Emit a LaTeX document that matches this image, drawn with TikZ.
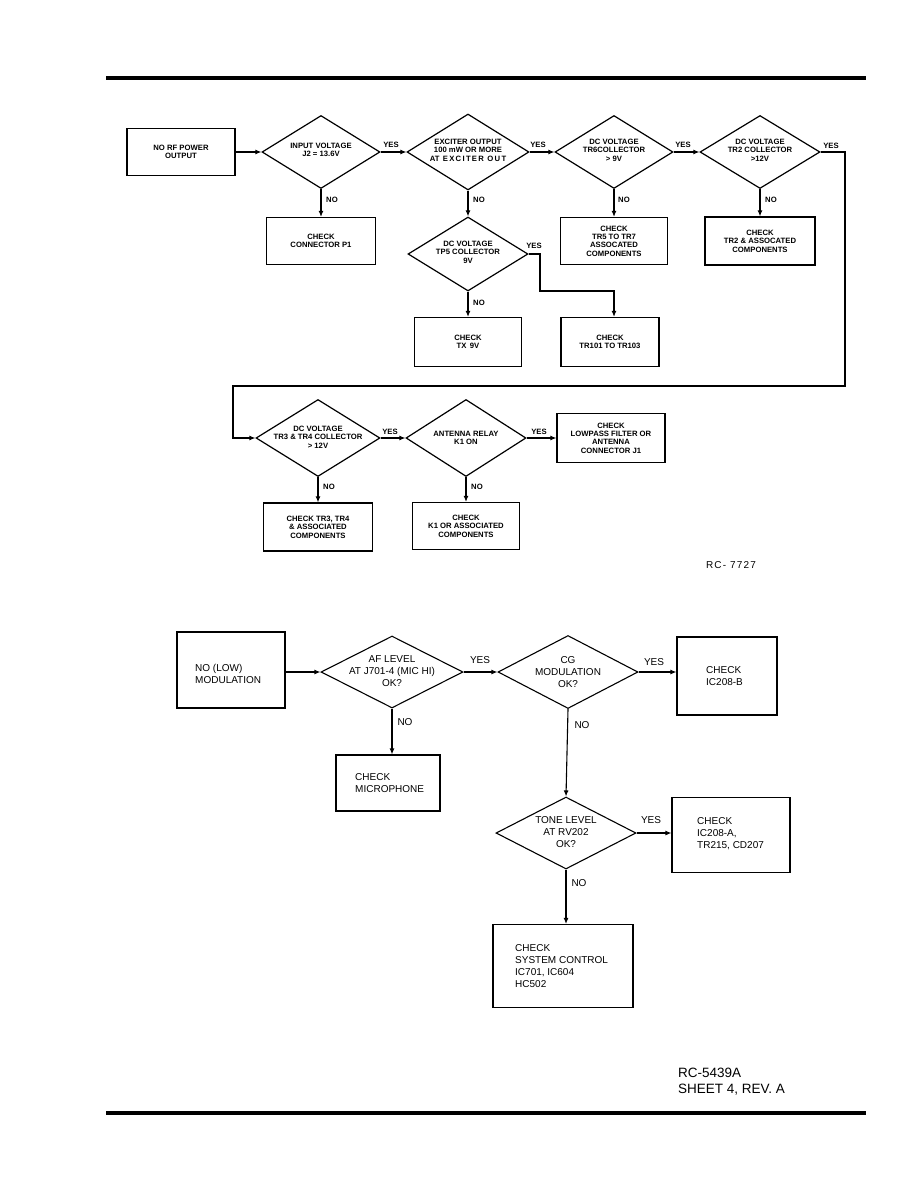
\documentclass[tikz,border=0pt]{standalone}
\usepackage{fontspec}
\setmainfont{Liberation Sans}
\usetikzlibrary{shapes.geometric,arrows.meta}
\newcommand\toptxt{\fontsize{7.7}{8.4}\selectfont\bfseries}
\newcommand\bottxt{\fontsize{10}{12}\selectfont}
\tikzset{
  tbox/.style={draw, line width=1.2pt, inner sep=0pt, align=center, font=\toptxt},
  tdia/.style={draw, diamond, line width=1.2pt, inner sep=0pt},
  ttxt/.style={align=center, font=\toptxt, inner sep=0pt},
  tlab/.style={font=\toptxt, inner sep=0pt},
  bbox/.style={draw, line width=1.1pt, inner sep=0pt},
  bdia/.style={draw, diamond, line width=1.1pt, inner sep=0pt},
  btxt/.style={align=left, font=\bottxt, inner sep=0pt},
  bctxt/.style={align=center, font=\bottxt, inner sep=0pt},
  blab/.style={font=\bottxt, inner sep=0pt},
  arr/.style={line width=1.1pt, -{Latex[length=6pt,width=5pt]}},
  rule/.style={line width=4.5pt}
}
\begin{document}
\begin{tikzpicture}[x=1pt,y=-1pt]
\useasboundingbox[fill=white] (0,0) rectangle (918,1188);
% page rules
\coordinate (r1a) at (106,78); \coordinate (r1b) at (866,78);
\coordinate (r2a) at (106,1113); \coordinate (r2b) at (866,1113);
\draw[rule] (r1a) -- (r1b);
\draw[rule] (r2a) -- (r2b);

% ===== top flowchart =====
\node[tbox, minimum width=108, minimum height=47] (b1) at (181,152) {NO RF POWER\\OUTPUT};
\node[tdia, minimum width=118, minimum height=73] (d1) at (321,152) {};
\node[ttxt] (d1t) at (321,150) {INPUT VOLTAGE\\J2 = 13.6V};
\node[tbox, minimum width=109, minimum height=47] (c1) at (321,241) {CHECK\\CONNECTOR P1};
\node[tdia, minimum width=122, minimum height=76] (d2) at (468,152) {};
\node[ttxt] (d2t) at (468,150) {EXCITER OUTPUT\\100 mW OR MORE\\AT \,E\,X\,C\,I\,T\,E\,R \,O\,U\,T};
\node[tdia, minimum width=120, minimum height=74] (d3) at (468,254) {};
\node[ttxt] (d3t) at (468,252) {DC VOLTAGE\\TP5 COLLECTOR\\9V};
\node[tbox, minimum width=107, minimum height=49] (c3) at (468,342) {CHECK\\TX \,9V};
\node[tbox, minimum width=98, minimum height=49] (c4) at (610,342) {CHECK\\TR101 TO TR103};
\node[tdia, minimum width=118, minimum height=73] (d4) at (614,152) {};
\node[ttxt] (d4t) at (614,150) {DC VOLTAGE\\TR6COLLECTOR\\> 9V};
\node[tbox, minimum width=107, minimum height=47] (c5) at (614,241) {CHECK\\TR5 TO TR7\\ASSOCATED\\COMPONENTS};
\node[tdia, minimum width=120, minimum height=73] (d5) at (760,152) {};
\node[ttxt] (d5t) at (760,150) {DC VOLTAGE\\TR2 COLLECTOR\\>12V};
\node[tbox, minimum width=110, minimum height=48] (c6) at (760,241) {CHECK\\TR2 \& ASSOCATED\\COMPONENTS};
\node[tdia, minimum width=124, minimum height=77] (d6) at (318,438) {};
\node[ttxt] (d6t) at (318,437) {DC VOLTAGE\\TR3 \& TR4 COLLECTOR\\> 12V};
\node[tdia, minimum width=120, minimum height=77] (d7) at (466,438) {};
\node[ttxt] (d7t) at (466,438) {ANTENNA RELAY\\K1 ON};
\node[tbox, minimum width=108, minimum height=49] (c7) at (611,438) {CHECK\\LOWPASS FILTER OR\\ANTENNA\\CONNECTOR J1};
\node[tbox, minimum width=109, minimum height=48] (c8) at (318,527) {CHECK TR3, TR4\\\& ASSOCIATED\\COMPONENTS};
\node[tbox, minimum width=107, minimum height=47] (c9) at (466,526) {CHECK\\K1 OR ASSOCIATED\\COMPONENTS};

\draw[arr] (b1.east) -- (d1.west);
\draw[arr] (d1.east) -- (d2.west);
\draw[arr] (d2.east) -- (d4.west);
\draw[arr] (d4.east) -- (d5.west);
\draw[arr] (d1.south) -- (c1.north);
\draw[arr] (d2.south) -- (d3.north);
\draw[arr] (d3.south) -- (c3.north);
\draw[arr] (d4.south) -- (c5.north);
\draw[arr] (d5.south) -- (c6.north);
\coordinate (y1) at (540,254); \coordinate (y2) at (540,291); \coordinate (y3) at (614,291);
\draw[arr] (d3.east) -- (y1) -- (y2) -- (y3) -- (y3 |- c4.north);
\coordinate (l1) at (845,152); \coordinate (l2) at (845,386); \coordinate (l3) at (233,386); \coordinate (l4) at (233,438);
\draw[arr] (d5.east) -- (l1) -- (l2) -- (l3) -- (l4) -- (d6.west);
\draw[arr] (d6.east) -- (d7.west);
\draw[arr] (d7.east) -- (c7.west);
\draw[arr] (d6.south) -- (c8.north);
\draw[arr] (d7.south) -- (c9.north);

\node[tlab] (ly1) at (391,145) {YES};
\node[tlab] (ly2) at (538,145) {YES};
\node[tlab] (ly3) at (683,145) {YES};
\node[tlab] (ly4) at (831,146) {YES};
\node[tlab] (ly5) at (534,246) {YES};
\node[tlab] (ly6) at (390,432) {YES};
\node[tlab] (ly7) at (539,432) {YES};
\node[tlab] (ln1) at (332,200) {NO};
\node[tlab] (ln2) at (479,200) {NO};
\node[tlab] (ln3) at (479,303) {NO};
\node[tlab] (ln4) at (624,200) {NO};
\node[tlab] (ln5) at (771,200) {NO};
\node[tlab] (ln6) at (329,487) {NO};
\node[tlab] (ln7) at (477,487) {NO};
\node[font=\fontsize{10}{12}\selectfont\addfontfeature{LetterSpace=12}, inner sep=0pt] (rc1) at (731,565) {RC- 7727};

% ===== bottom flowchart =====
\node[bbox, minimum width=108, minimum height=76] (b2) at (231,670) {};
\node[btxt, anchor=west] (b2t) at (195,674) {NO (LOW)\\MODULATION};
\node[bdia, minimum width=142, minimum height=72] (e1) at (392,672) {};
\node[bctxt] (e1t) at (392,671) {AF LEVEL\\AT J701-4 (MIC HI)\\OK?};
\node[bdia, minimum width=140, minimum height=73] (e2) at (568,672) {};
\node[bctxt] (e2t) at (568,672) {CG\\MODULATION\\OK?};
\node[bbox, minimum width=100, minimum height=78] (f1) at (727,676) {};
\node[btxt, anchor=west] (f1t) at (706,676) {CHECK\\IC208-B};
\node[bbox, minimum width=104, minimum height=56] (f2) at (388,783) {};
\node[btxt, anchor=west] (f2t) at (355,783) {CHECK\\MICROPHONE};
\node[bdia, minimum width=140, minimum height=72] (e3) at (566,833) {};
\node[bctxt] (e3t) at (566,832) {TONE LEVEL\\AT RV202\\OK?};
\node[bbox, minimum width=118, minimum height=75] (f3) at (731,835) {};
\node[btxt, anchor=west] (f3t) at (697,834) {CHECK\\IC208-A,\\TR215, CD207};
\node[bbox, minimum width=140, minimum height=83] (f4) at (563,966) {};
\node[btxt, anchor=west] (f4t) at (515,966) {CHECK\\SYSTEM CONTROL\\IC701, IC604\\HC502};

\draw[arr] (b2.east |- e1.west) -- (e1.west);
\draw[arr] (e1.east) -- (e2.west);
\draw[arr] (e2.east) -- (e2.east -| f1.west);
\draw[arr] (e1.south) -- (e1.south |- f2.north);
\draw[arr] (e2.south) -- (e3.north);
\draw[arr] (e3.east) -- (e3.east -| f3.west);
\draw[arr] (e3.south) -- (e3.south |- f4.north);

\node[blab] (my1) at (480,660) {YES};
\node[blab] (my2) at (654,662) {YES};
\node[blab] (my3) at (651,820) {YES};
\node[blab] (mn1) at (405,722) {NO};
\node[blab] (mn2) at (582,725) {NO};
\node[blab] (mn3) at (579,883) {NO};

\node[font=\fontsize{13.5}{16}\selectfont, inner sep=0pt, anchor=base west] (rc2) at (678,1077) {RC-5439A};
\node[font=\fontsize{13.5}{16}\selectfont, inner sep=0pt, anchor=base west] (rc3) at (678,1093) {SHEET 4, REV. A};
\end{tikzpicture}
\end{document}
